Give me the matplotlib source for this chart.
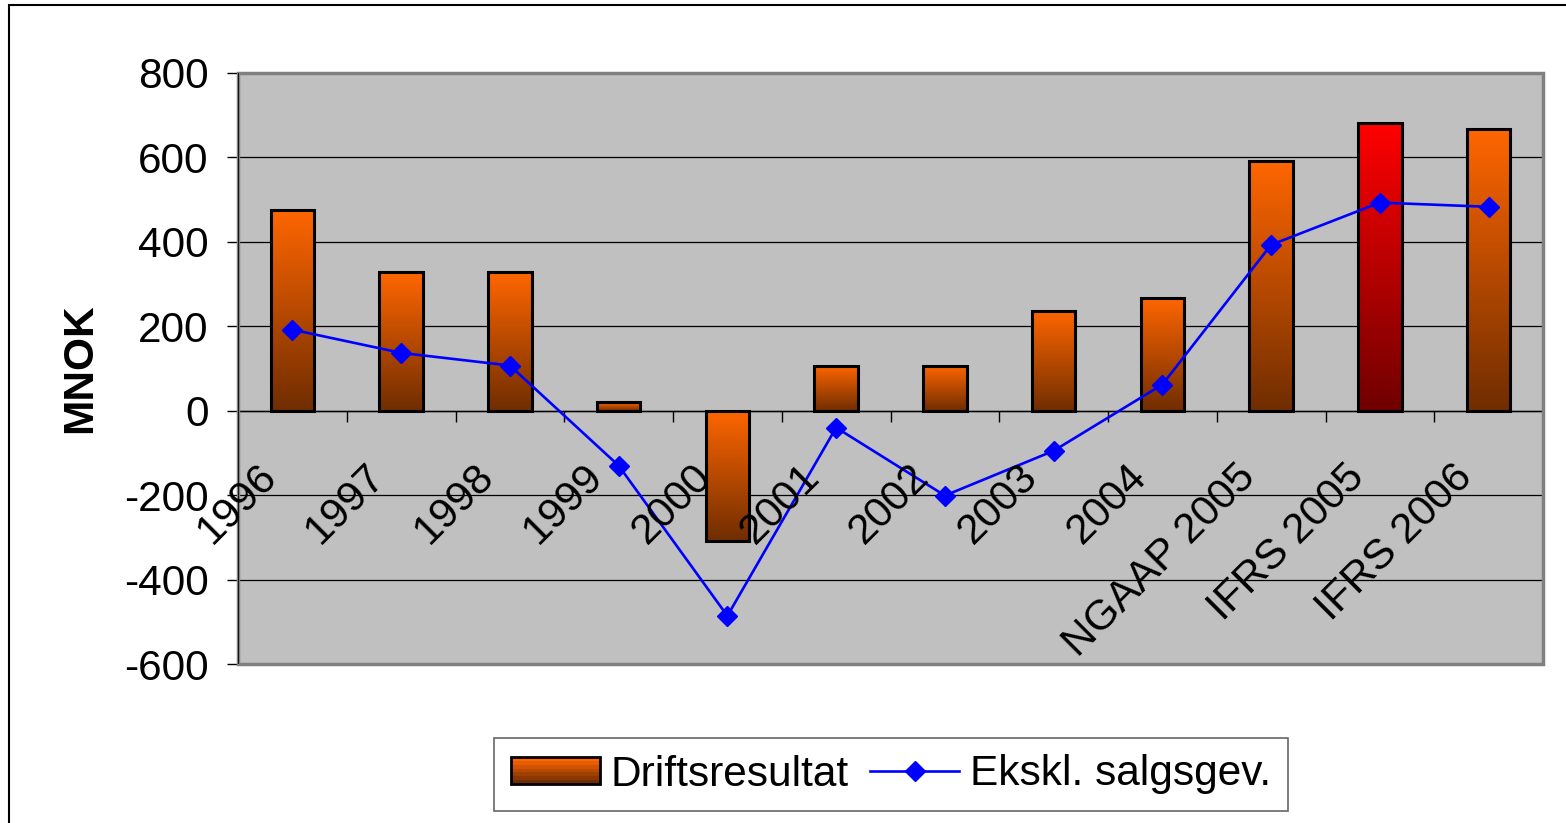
#----------------------------------------------------------------------------------------------------
# Make imports
#----------------------------------------------------------------------------------------------------
import numpy as np
import matplotlib
matplotlib.use("Agg")
import matplotlib.pyplot as plt
from matplotlib.patches import Rectangle
from matplotlib.legend_handler import HandlerBase
from matplotlib.lines import Line2D
from matplotlib.transforms import ScaledTranslation

#----------------------------------------------------------------------------------------------------
# Data (MNOK)
#----------------------------------------------------------------------------------------------------
categories = ["1996", "1997", "1998", "1999", "2000", "2001", "2002", "2003",
              "2004", "NGAAP 2005", "IFRS 2005", "IFRS 2006"]
driftsresultat = [476, 329, 329, 21, -308, 107, 107, 237, 268, 592, 682, 668]
ekskl_salgsgev = [192, 137, 107, -130, -486, -40, -201, -95, 62, 393, 493, 483]
highlight = "IFRS 2005"

y_ticks = [-600, -400, -200, 0, 200, 400, 600, 800]

#----------------------------------------------------------------------------------------------------
# Style
#----------------------------------------------------------------------------------------------------
plt.rcParams["font.family"] = ["Liberation Sans", "DejaVu Sans"]
plt.rcParams["axes.unicode_minus"] = False
fs = 30.5

orange_top = np.array([255, 102, 0]) / 255
orange_bot = np.array([112, 45, 0]) / 255
red_top = np.array([255, 0, 0]) / 255
red_bot = np.array([112, 0, 0]) / 255


def gradient(top, bot, n=256):
    t = np.linspace(0, 1, n)[:, None]
    return (top * (1 - t) + bot * t)[:, None, :]


class GradientHandler(HandlerBase):
    def create_artists(self, legend, orig_handle, xdescent, ydescent,
                       width, height, fontsize, trans):
        artists = []
        n = 7
        x0, y0 = -xdescent, -ydescent
        for k in range(n):
            t = k / (n - 1)
            c = orange_top * (1 - t) + orange_bot * t
            h = height / n
            artists.append(Rectangle((x0, y0 + height - (k + 1) * h), width, h,
                                     facecolor=c, edgecolor="none", transform=trans))
        artists.append(Rectangle((x0, y0), width, height, facecolor="none",
                                 edgecolor="black", lw=2, transform=trans))
        return artists


#----------------------------------------------------------------------------------------------------
# Plot
#----------------------------------------------------------------------------------------------------
fig = plt.figure(figsize=(15.66, 8.23), dpi=100)
ax = fig.add_axes([238 / 1566, 1 - 664 / 823, (1543 - 238) / 1566, (664 - 73) / 823])
ax.set_facecolor("#C0C0C0")

x = np.arange(len(categories))
bars = ax.bar(x, driftsresultat, width=0.4, facecolor="none", edgecolor="black",
              linewidth=2.2, zorder=3)

for cat, rect in zip(categories, bars):
    x0 = rect.get_x()
    w = rect.get_width()
    y_a = rect.get_y()
    y_b = y_a + rect.get_height()
    if cat == highlight:
        img = gradient(red_top, red_bot)
    else:
        img = gradient(orange_top, orange_bot)
    ax.imshow(img, extent=[x0, x0 + w, min(y_a, y_b), max(y_a, y_b)],
              aspect="auto", origin="upper", interpolation="bilinear", zorder=2)

ax.plot(x, ekskl_salgsgev, color="#0000FF", linewidth=1.9, marker="D",
        markersize=10.5, markerfacecolor="#0000FF", markeredgecolor="#0000FF", zorder=4)

ax.set_xlim(-0.5, len(categories) - 0.5)
ax.set_ylim(-600, 800)

# Y axis
ax.set_yticks(y_ticks)
ax.set_yticklabels([str(v) for v in y_ticks], fontsize=fs)
ax.tick_params(axis="y", direction="out", length=8, width=1, pad=13, colors="black")
ax.yaxis.grid(True, color="black", linewidth=0.9)
ax.set_axisbelow(True)

# X axis crossing at zero, tick marks at category boundaries
ax.spines["bottom"].set_position(("data", 0))
ax.spines["bottom"].set_linewidth(1)
ax.set_xticks(np.arange(-0.5, len(categories), 1.0))
ax.set_xticklabels([])
ax.tick_params(axis="x", direction="out", length=8, width=1)
ax.spines["left"].set_linewidth(1.2)
for s in ["top", "right"]:
    ax.spines[s].set_visible(False)
ax.add_patch(Rectangle((0, 0), 1, 1, transform=ax.transAxes, fill=False,
                       edgecolor="#808080", linewidth=2.5, clip_on=False, zorder=5))
ax.axvline(-0.5, color="black", linewidth=1.2, zorder=6)

# Category labels, rotated, below the zero line
offset = ScaledTranslation(-0.22, -0.60, fig.dpi_scale_trans)
for i, cat in enumerate(categories):
    ax.text(i, 0, cat, rotation=45, ha="right", va="center", rotation_mode="anchor",
            fontsize=fs, transform=ax.transData + offset, zorder=7)

fig.text(80 / 1566, 1 - 368 / 823, "MNOK", rotation=90, fontsize=fs,
         fontweight="bold", ha="center", va="center")

# Legend
bar_handle = Rectangle((0, 0), 1, 1)
line_handle = Line2D([], [], color="#0000FF", linewidth=1.9, marker="D",
                     markersize=10.5, markerfacecolor="#0000FF")
leg = fig.legend([bar_handle, line_handle], ["Driftsresultat", "Ekskl. salgsgev."],
                 handler_map={Rectangle: GradientHandler()},
                 loc="center", bbox_to_anchor=(891 / 1566, 1 - 774.5 / 823),
                 ncol=2, fontsize=fs, frameon=True, fancybox=False,
                 handlelength=2.1, handleheight=0.6, handletextpad=0.25,
                 columnspacing=0.5, borderpad=0.4, numpoints=1)
leg.get_frame().set_edgecolor("#404040")
leg.get_frame().set_linewidth(1.2)

# Outer chart frame
fig.patches.append(Rectangle((9 / 1566, -0.1), 2, 1 - 5 / 823 + 0.1,
                             transform=fig.transFigure, fill=False,
                             edgecolor="black", linewidth=1.5))

fig.savefig("out.png", dpi=100)
